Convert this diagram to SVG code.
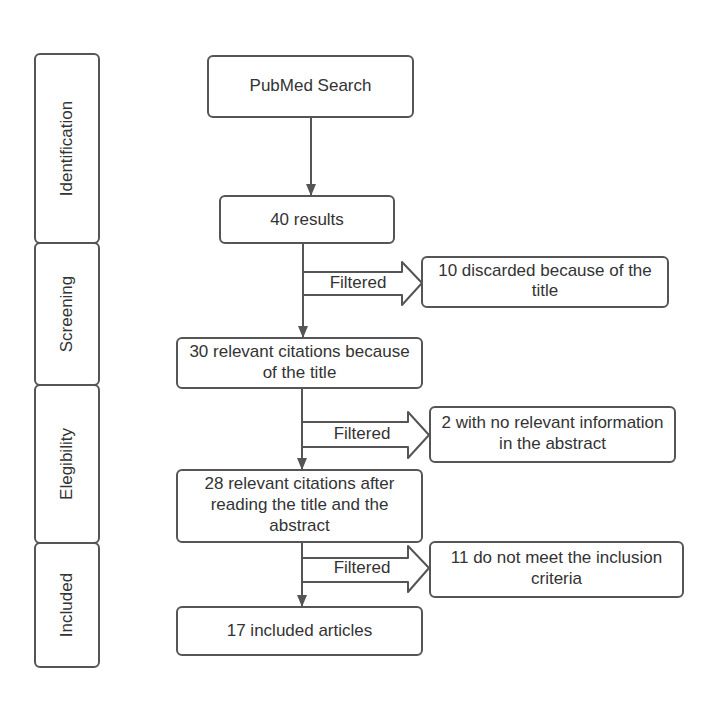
<svg xmlns="http://www.w3.org/2000/svg" width="727" height="705" viewBox="0 0 727 705">
<defs>
<style>
.box{fill:#fff;stroke:#555;stroke-width:2}
.t{font-family:"Liberation Sans",Arial,sans-serif;font-size:17px;fill:#333;text-anchor:middle;dominant-baseline:central}
.ln{stroke:#555;stroke-width:2;fill:none}
.blk{fill:#fff;stroke:#555;stroke-width:2;stroke-linejoin:round}
</style>
<marker id="ah" markerWidth="12" markerHeight="10" refX="11" refY="5" orient="auto" markerUnits="userSpaceOnUse">
<path d="M0,0 L12,5 L0,10 Z" fill="#555"/>
</marker>
</defs>
<rect width="727" height="705" fill="#fff"/>
<g id="lane-identification"><rect class="box" x="35" y="54" width="64" height="189" rx="5"/><text class="t" transform="translate(66,148.5) rotate(-90)">Identification</text></g>
<g id="lane-screening"><rect class="box" x="35" y="243" width="64" height="142" rx="5"/><text class="t" transform="translate(66,314) rotate(-90)">Screening</text></g>
<g id="lane-elegibility"><rect class="box" x="35" y="385" width="64" height="158" rx="5"/><text class="t" transform="translate(66,464) rotate(-90)">Elegibility</text></g>
<g id="lane-included"><rect class="box" x="35" y="543" width="64" height="124" rx="5"/><text class="t" transform="translate(66,605) rotate(-90)">Included</text></g>
<g id="connectors">
<line class="ln" x1="311" y1="117" x2="311" y2="195" marker-end="url(#ah)"/>
<line class="ln" x1="303" y1="243" x2="303" y2="337" marker-end="url(#ah)"/>
<line class="ln" x1="302" y1="388" x2="302" y2="469" marker-end="url(#ah)"/>
<line class="ln" x1="302" y1="542" x2="302" y2="606" marker-end="url(#ah)"/>
<g id="filter1"><polygon class="blk" points="303,272 402,272 402,262 422,283 402,305 402,295 303,295"/><text class="t" x="358" y="282">Filtered</text></g>
<g id="filter2"><polygon class="blk" points="302,422 408,422 408,412 429,435 408,458 408,447 302,447"/><text class="t" x="362" y="433">Filtered</text></g>
<g id="filter3"><polygon class="blk" points="302,558 408,558 408,546 429,568 408,592 408,582 302,582"/><text class="t" x="362" y="567">Filtered</text></g>
</g>
<g id="pubmed"><rect class="box" x="208" y="56" width="205" height="61" rx="5"/><text class="t" x="310.5" y="85">PubMed Search</text></g>
<g id="results40"><rect class="box" x="220" y="196" width="174" height="47" rx="5"/><text class="t" x="307" y="219">40 results</text></g>
<g id="discard10"><rect class="box" x="422" y="257" width="246" height="50" rx="5"/><text class="t" x="545" y="270">10 discarded because of the</text><text class="t" x="545" y="290">title</text></g>
<g id="relevant30"><rect class="box" x="177" y="338" width="245" height="50" rx="5"/><text class="t" x="299.5" y="351">30 relevant citations because</text><text class="t" x="299.5" y="372">of the title</text></g>
<g id="discard2"><rect class="box" x="430" y="407" width="245" height="55" rx="5"/><text class="t" x="552.5" y="422">2 with no relevant information</text><text class="t" x="552.5" y="443">in the abstract</text></g>
<g id="relevant28"><rect class="box" x="177" y="470" width="245" height="72" rx="5"/><text class="t" x="299.5" y="483">28 relevant citations after</text><text class="t" x="299.5" y="504">reading the title and the</text><text class="t" x="299.5" y="525">abstract</text></g>
<g id="discard11"><rect class="box" x="430" y="542" width="253" height="55" rx="5"/><text class="t" x="556.5" y="557">11 do not meet the inclusion</text><text class="t" x="556.5" y="578">criteria</text></g>
<g id="included17"><rect class="box" x="177" y="607" width="245" height="48" rx="5"/><text class="t" x="299.5" y="630">17 included articles</text></g>
</svg>
